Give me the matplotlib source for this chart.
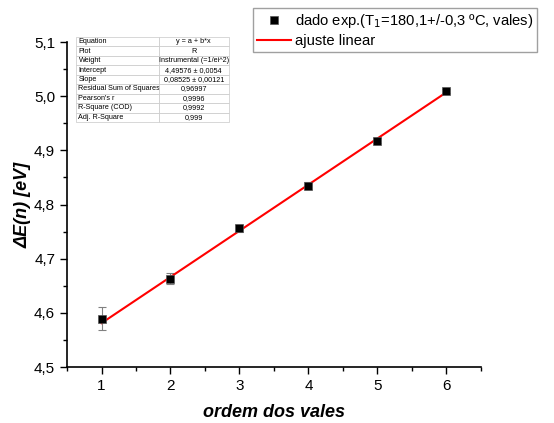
import numpy as np
import matplotlib
matplotlib.use('Agg')
from matplotlib import pyplot as plt

plt.rcParams['font.family'] = ['Liberation Sans', 'DejaVu Sans']

# dados experimentais
ordem = [1, 2, 3, 4, 5, 6]
delta_e = [4.589, 4.663, 4.756, 4.835, 4.918, 5.010]
erro = [0.021, 0.010, 0.006, 0.006, 0.005, 0.004]

# parametros do ajuste linear
a_fit = 4.49576
b_fit = 0.08525

# tabela do ajuste
tab_nomes = ['Equation', 'Plot', 'Weight', 'Intercept', 'Slope',
             'Residual Sum of Squares', "Pearson's r", 'R-Square (COD)', 'Adj. R-Square']
tab_valores = ['y = a + b*x', 'R', 'Instrumental (=1/ei^2)', '4,49576 \u00b1 0,0054',
               '0,08525 \u00b1 0,00121', '0,96997', '0,9996', '0,9992', '0,999']

fig = plt.figure(figsize=(5.54, 4.23), dpi=100)
ax = fig.add_axes([67 / 554, 1 - 367 / 423, (481 - 67) / 554, (367 - 42) / 423])

ax.errorbar(ordem, delta_e, yerr=erro, fmt='none', ecolor='#808080', elinewidth=0.8,
            capsize=3, capthick=0.8, zorder=2)
ax.plot(ordem, delta_e, 's', color='black', markersize=6, markeredgecolor='#555555',
        markeredgewidth=0.5, zorder=3, label='dado exp.(T$_1$=180,1+/-0,3 \u00baC, vales)')
x_fit = np.array([ordem[0], ordem[-1]])
ax.plot(x_fit, a_fit + b_fit * x_fit, color='red', lw=1.5, zorder=2.5, label='ajuste linear')

ax.set_xlim(0.5, 6.5)
ax.set_ylim(4.5, 5.1)
ax.set_xticks([1, 2, 3, 4, 5, 6])
ax.set_xticks([0.5, 1.5, 2.5, 3.5, 4.5, 5.5, 6.5], minor=True)
yt = [4.5, 4.6, 4.7, 4.8, 4.9, 5.0, 5.1]
ax.set_yticks(yt)
ax.set_yticklabels([('%.1f' % v).replace('.', ',') for v in yt])
ax.set_yticks(np.arange(4.55, 5.1, 0.1), minor=True)
ax.tick_params(axis='both', which='major', labelsize=11, length=5, width=1, direction='out')
ax.tick_params(axis='both', which='minor', length=3, width=1, direction='out')
for s in ['top', 'right']:
    ax.spines[s].set_visible(False)
for s in ['left', 'bottom']:
    ax.spines[s].set_linewidth(1.2)

ax.set_xlabel('ordem dos vales', fontsize=13, fontweight='bold', style='italic', labelpad=8)
ax.set_ylabel('\u0394E(n) [eV]', fontsize=13, fontweight='bold', style='italic', labelpad=2)

leg = fig.legend(loc='upper left', bbox_to_anchor=(253 / 554, 1 - 8 / 423), fontsize=10.6,
                 frameon=True, fancybox=False, edgecolor='#888888', handlelength=2.3,
                 borderpad=0.25, labelspacing=0.3, handletextpad=0.3, borderaxespad=0)
leg.get_frame().set_linewidth(1)

# tabela de resultados
tab = ax.table(cellText=[[n, v] for n, v in zip(tab_nomes, tab_valores)],
               cellLoc='left', colWidths=[0.54, 0.46],
               bbox=[(76 - 67) / 414, (367 - 122) / 325, (229 - 76) / 414, (122 - 37) / 325])
tab.auto_set_font_size(False)
for (r, c), cell in tab.get_celld().items():
    cell.set_fontsize(5.2)
    cell.set_edgecolor('#c8c8c8')
    cell.set_linewidth(0.5)
    cell.PAD = 0.03
    if c == 1:
        cell.get_text().set_ha('center')
        cell._loc = 'center'

fig.savefig('out.png', dpi=100)
